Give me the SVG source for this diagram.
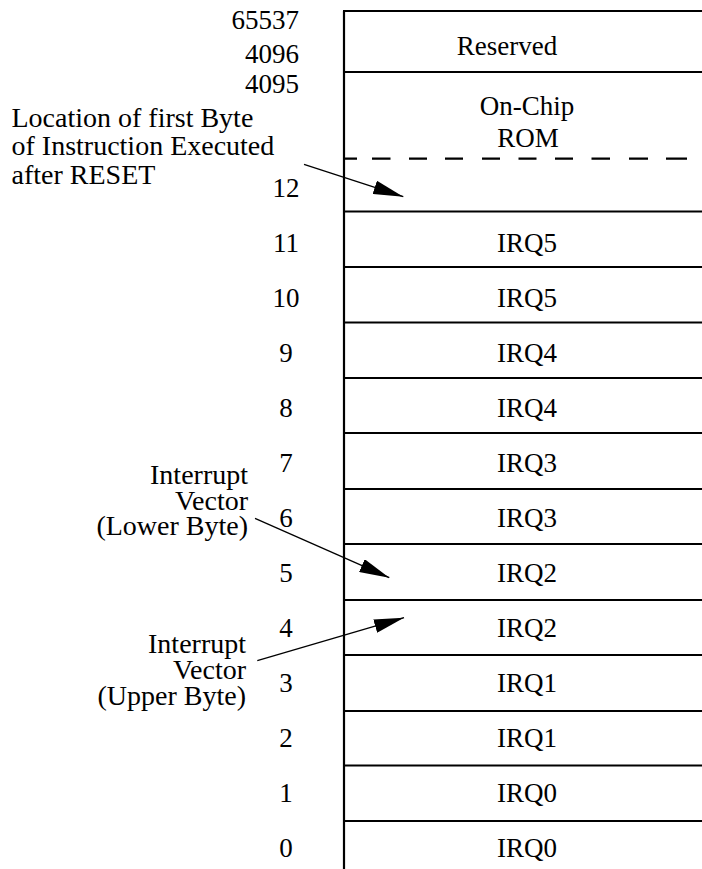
<svg xmlns="http://www.w3.org/2000/svg" width="702" height="869" viewBox="0 0 702 869">
<style>
text{font-family:"Liberation Serif","Times New Roman",serif;fill:#000}
.num{font-size:27px;text-anchor:middle}
.addr{font-size:27px;text-anchor:end}
.cell{font-size:27px;text-anchor:middle}
.lbl{font-size:28px}
.lblr{font-size:28px;text-anchor:end}
.rule{stroke:#000;stroke-width:2.2;fill:none}
.conn{stroke:#000;stroke-width:1.3;fill:none;marker-end:url(#ah)}
</style>
<defs>
<marker id="ah" markerUnits="userSpaceOnUse" markerWidth="30" markerHeight="14" refX="30" refY="7" orient="auto">
<path d="M0,0 L30,7 L0,14 z" fill="#000"/>
</marker>
</defs>
<rect width="702" height="869" fill="#fff"/>
<g id="memory-frame">
<path class="rule" d="M344,11 V869 M343,11 H702 M343,72 H702 M343,211.5 H702 M343,267 H702 M343,322.5 H702 M343,378 H702 M343,433 H702 M343,489 H702 M343,544 H702 M343,600 H702 M343,655 H702 M343,711 H702 M343,765.5 H702 M343,821 H702"/>
<path class="rule" d="M344,158.7 h13 M372,158.7 h18.5 M409,158.7 h18 M445,158.7 h18 M482,158.7 h18 M518.5,158.7 h18 M555,158.7 h18 M591.5,158.7 h18.5 M629,158.7 h19 M666,158.7 h21"/>
</g>
<g id="addresses">
<text class="addr" x="299" y="29">65537</text>
<text class="addr" x="299" y="63">4096</text>
<text class="addr" x="299" y="93">4095</text>
</g>
<g id="node-reserved"><text class="cell" x="507" y="55">Reserved</text></g>
<g id="node-rom"><text class="cell" x="527" y="115">On-Chip</text><text class="cell" x="528" y="146.7">ROM</text></g>
<g id="node-12"><text class="num" x="286" y="197">12</text></g>
<g id="node-11"><text class="num" x="286" y="251.7">11</text><text class="cell" x="527" y="251.7">IRQ5</text></g>
<g id="node-10"><text class="num" x="286" y="306.7">10</text><text class="cell" x="527" y="306.7">IRQ5</text></g>
<g id="node-9"><text class="num" x="286" y="361.7">9</text><text class="cell" x="527" y="361.7">IRQ4</text></g>
<g id="node-8"><text class="num" x="286" y="416.7">8</text><text class="cell" x="527" y="416.7">IRQ4</text></g>
<g id="node-7"><text class="num" x="286" y="471.7">7</text><text class="cell" x="527" y="471.7">IRQ3</text></g>
<g id="node-6"><text class="num" x="286" y="526.7">6</text><text class="cell" x="527" y="526.7">IRQ3</text></g>
<g id="node-5"><text class="num" x="286" y="581.7">5</text><text class="cell" x="527" y="581.7">IRQ2</text></g>
<g id="node-4"><text class="num" x="286" y="636.7">4</text><text class="cell" x="527" y="636.7">IRQ2</text></g>
<g id="node-3"><text class="num" x="286" y="691.7">3</text><text class="cell" x="527" y="691.7">IRQ1</text></g>
<g id="node-2"><text class="num" x="286" y="746.7">2</text><text class="cell" x="527" y="746.7">IRQ1</text></g>
<g id="node-1"><text class="num" x="286" y="801.7">1</text><text class="cell" x="527" y="801.7">IRQ0</text></g>
<g id="node-0"><text class="num" x="286" y="856.7">0</text><text class="cell" x="527" y="856.7">IRQ0</text></g>
<g id="label-reset">
<text class="lbl" x="11.5" y="127">Location of first Byte</text>
<text class="lbl" x="11.5" y="155.3">of Instruction Executed</text>
<text class="lbl" x="11.5" y="183.6">after RESET</text>
</g>
<g id="label-lower">
<text class="lblr" x="248" y="484">Interrupt</text>
<text class="lblr" x="248" y="509.5">Vector</text>
<text class="lblr" x="248" y="535">(Lower Byte)</text>
</g>
<g id="label-upper">
<text class="lblr" x="246" y="653">Interrupt</text>
<text class="lblr" x="246" y="678.5">Vector</text>
<text class="lblr" x="246" y="704.5">(Upper Byte)</text>
</g>
<g id="connectors">
<path class="conn" d="M304,164.3 L403.3,196.7"/>
<path class="conn" d="M255,518.3 L389.3,577.7"/>
<path class="conn" d="M257.3,660.7 L404,617.7"/>
</g>
</svg>
